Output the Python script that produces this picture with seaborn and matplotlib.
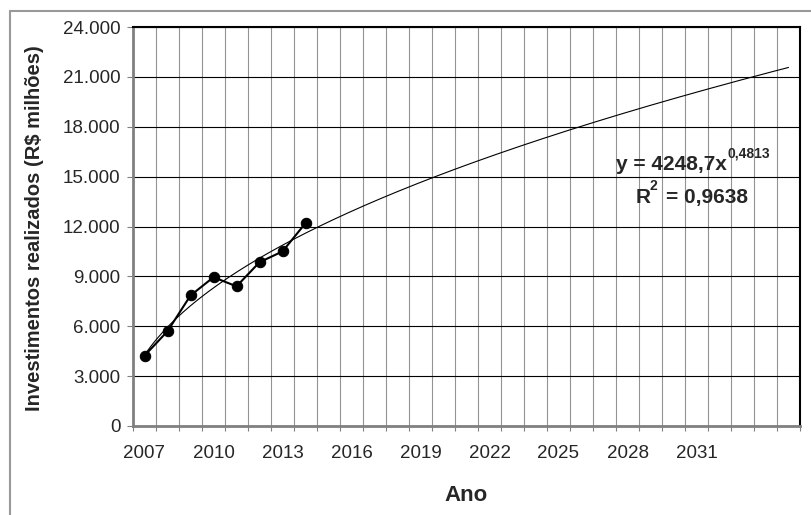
import numpy as np
import pandas as pd
import seaborn as sns
import matplotlib
matplotlib.use("Agg")
import matplotlib.pyplot as plt
from matplotlib.ticker import FixedLocator, FuncFormatter
from matplotlib.lines import Line2D

# dados
anos = [2007, 2008, 2009, 2010, 2011, 2012, 2013, 2014]
investimentos = [4230, 5700, 7850, 8950, 8400, 9850, 10500, 12200]
n_periodos = 29  # 2007-2035 (linha de tendência projetada)
rotulos_x = [2007, 2010, 2013, 2016, 2019, 2022, 2025, 2028, 2031]
ticks_y = [0, 3000, 6000, 9000, 12000, 15000, 18000, 21000, 24000]

equacao = "y = 4248,7x"
expoente = "0,4813"
r2_txt = "= 0,9638"

sns.set_style("white")
plt.rcParams["font.family"] = ["Liberation Sans", "DejaVu Sans"]

W, H = 811, 515
fig = plt.figure(figsize=(W / 100, H / 100), dpi=100)
ax = fig.add_axes([133 / W, 1 - 426 / H, (800 - 133) / W, (426 - 27) / H])

# série e linha de tendência (ajuste de potência, como no Excel)
periodo = np.arange(1, len(anos) + 1)
b, ln_a = np.polyfit(np.log(periodo), np.log(investimentos), 1)
xt = np.linspace(1, n_periodos, 200)
df = pd.DataFrame({"periodo": periodo, "inv": investimentos})
tend = pd.DataFrame({"x": xt, "y": np.exp(ln_a) * xt ** b})

sns.lineplot(data=tend, x="x", y="y", ax=ax, color="black", lw=0.8, zorder=3)
sns.lineplot(data=df, x="periodo", y="inv", ax=ax, color="black", lw=1.5,
             marker="o", markersize=7.5, markeredgecolor="black", zorder=4)

ax.set_xlim(0.5, n_periodos + 0.5)
ax.set_ylim(0, 24000)

ax.xaxis.set_major_locator(FixedLocator([r - anos[0] + 1 for r in rotulos_x]))
ax.set_xticklabels([str(r) for r in rotulos_x])
ax.xaxis.set_minor_locator(FixedLocator(np.arange(0.5, n_periodos + 0.6, 1)))
ax.tick_params(axis="x", which="major", length=0, pad=14, labelsize=13.5)
ax.tick_params(axis="x", which="minor", length=3.6, width=0.8, color="#808080",
               direction="out", bottom=True)

ax.set_yticks(ticks_y)
ax.yaxis.set_major_formatter(FuncFormatter(lambda v, p: f"{v:,.0f}".replace(",", ".")))
ax.tick_params(axis="y", length=4, width=0.8, color="#808080", direction="out",
               left=True, pad=5, labelsize=13.5)

ax.grid(axis="x", which="minor", color="#939393", lw=0.8)
ax.grid(axis="y", which="major", color="black", lw=0.8)
ax.set_xlabel("")
ax.set_ylabel("")

for s in ["left", "bottom"]:
    ax.spines[s].set_color("#808080")
    ax.spines[s].set_linewidth(2)
for s in ["top", "right"]:
    ax.spines[s].set_color("black")
    ax.spines[s].set_linewidth(1.5)

# textos
fig.text(34.5 / W, 1 - 228 / H, "Investimentos realizados (R$ milhões)", rotation=90,
         ha="center", va="center", fontsize=14.5, fontweight="bold")
fig.text(466 / W, 1 - 495.5 / H, "Ano", ha="center", va="center",
         fontsize=16, fontweight="bold")

fig.text(727 / W, 1 - 170 / H, equacao, ha="right", va="baseline",
         fontsize=15, fontweight="bold")
fig.text(727 / W, 1 - 158 / H, expoente, ha="left", va="baseline",
         fontsize=10, fontweight="bold")
fig.text(636 / W, 1 - 202.7 / H, "R", ha="left", va="baseline",
         fontsize=15, fontweight="bold")
fig.text(649 / W, 1 - 190 / H, "2", ha="left", va="baseline",
         fontsize=10, fontweight="bold")
fig.text(748 / W, 1 - 202.7 / H, r2_txt, ha="right", va="baseline",
         fontsize=15, fontweight="bold")

# moldura externa
fig.add_artist(Line2D([10 / W, 10 / W], [0, 1 - 11 / H], transform=fig.transFigure,
                      color="#999999", lw=1.5))
fig.add_artist(Line2D([10 / W, 1], [1 - 11 / H, 1 - 11 / H], transform=fig.transFigure,
                      color="#999999", lw=1.5))

fig.savefig("out.png", dpi=100)
